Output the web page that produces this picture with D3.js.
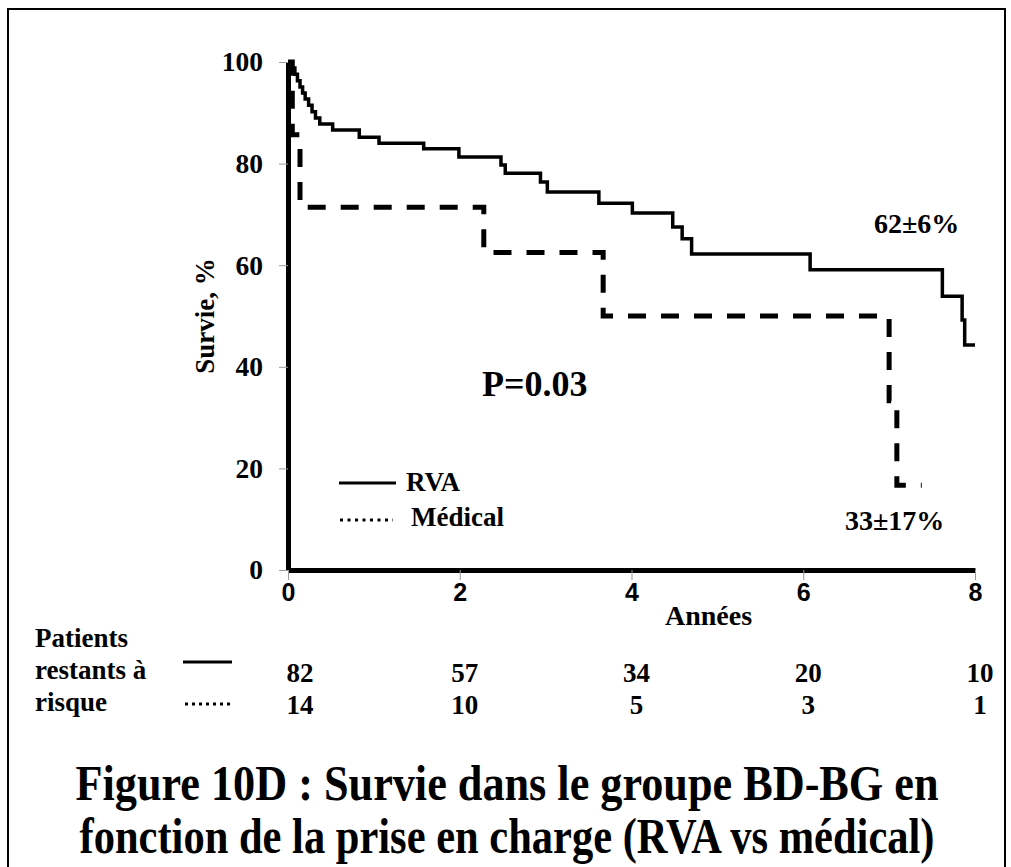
<!DOCTYPE html>
<html>
<head>
<meta charset="utf-8">
<script src="https://cdn.jsdelivr.net/npm/d3@7"></script>
<style>
  body { margin: 0; background: #fff; }
  text { font-family: "Liberation Serif", "Times New Roman", serif; font-weight: bold; fill: #000; }
</style>
</head>
<body>
<div id="chart"></div>
<script>
// Survival data (years, %)
var rvaTimes  = [0, 0.03, 0.08, 0.11, 0.14, 0.17, 0.20, 0.24, 0.28, 0.32, 0.37, 0.52, 0.83, 1.06, 1.58, 1.99, 2.48, 2.53, 2.94, 3.02, 3.62, 4.01, 4.48, 4.59, 4.70, 6.08, 7.62, 7.85, 7.88, 8.0];
var rvaValues = [100, 98.8, 97.6, 96.3, 95.1, 93.9, 92.7, 91.5, 90.2, 89.0, 87.8, 86.6, 85.2, 84.0, 82.9, 81.3, 79.7, 78.1, 76.4, 74.4, 72.2, 70.3, 67.5, 65.2, 62.2, 59.1, 53.9, 49.2, 44.3, 44.3];
var medTimes  = [0, 0.05, 0.14, 2.28, 3.67, 7.0, 7.09, 7.38];
var medValues = [100, 85.7, 71.4, 62.5, 50, 33.3, 16.7, 16.7];

var xTicks = [0, 2, 4, 6, 8];
var yTicks = [0, 20, 40, 60, 80, 100];
var riskRva = [82, 57, 34, 20, 10];
var riskMed = [14, 10, 5, 3, 1];

var W = 1011, H = 867;
var svg = d3.select("#chart").append("svg")
   .attr("width", W)
   .attr("height", H);

// frame around the figure
svg.append("path")
   .attr("d", "M8,867 L8,9 L1005,9 L1005,867")
   .attr("fill", "none")
   .attr("stroke", "#000")
   .attr("stroke-width", 2);

var x = d3.scaleLinear().domain([0, 8]).range([288, 975]);
var y = d3.scaleLinear().domain([0, 100]).range([570, 62]);

////////////////////////////////////////////////////////////////////////////////
// Axes
////////////////////////////////////////////////////////////////////////////////
var yAxis = svg.append("g")
   .attr("transform", "translate(" + x(0) + ",0)")
   .call(d3.axisLeft(y).tickValues(yTicks).tickSize(9).tickSizeOuter(0).tickPadding(16));
yAxis.select(".domain").attr("stroke", "#000").attr("stroke-width", 5);
yAxis.selectAll(".tick line").attr("stroke", "#999").attr("stroke-width", 1);
yAxis.selectAll(".tick text")
   .style("font-family", "Liberation Serif, serif")
   .attr("font-weight", "bold")
   .attr("font-size", 27.5)
   .attr("fill", "#000");

var xAxis = svg.append("g")
   .attr("transform", "translate(0," + y(0) + ")")
   .call(d3.axisBottom(x).tickValues(xTicks).tickSize(10).tickSizeOuter(0).tickPadding(3));
xAxis.select(".domain").attr("stroke", "#000").attr("stroke-width", 5);
xAxis.selectAll(".tick line").attr("stroke", "#999").attr("stroke-width", 1);
xAxis.selectAll(".tick text")
   .style("font-family", "Liberation Sans, Arial, sans-serif")
   .attr("font-weight", "bold")
   .attr("font-size", 25)
   .attr("fill", "#000");

svg.append("text").attr("x", 665).attr("y", 625).attr("font-size", 28).text("Années");

svg.append("text")
   .attr("transform", "translate(214,316) rotate(-90)")
   .attr("text-anchor", "middle")
   .attr("font-size", 27)
   .text("Survie, %");

////////////////////////////////////////////////////////////////////////////////
// Survival curves
////////////////////////////////////////////////////////////////////////////////
var line = d3.line()
   .x(function (d) { return x(d[0]); })
   .y(function (d) { return y(d[1]); })
   .curve(d3.curveStepAfter);

svg.append("path")
   .datum(medTimes.map(function (t, i) { return [t, medValues[i]]; }))
   .attr("d", line)
   .attr("fill", "none")
   .attr("stroke", "#000")
   .attr("stroke-width", 5)
   .attr("stroke-dasharray", "18,15");

svg.append("path")
   .datum(rvaTimes.map(function (t, i) { return [t, rvaValues[i]]; }))
   .attr("d", line)
   .attr("fill", "none")
   .attr("stroke", "#000")
   .attr("stroke-width", 3.5);

// annotations
svg.append("text").attr("x", 482).attr("y", 396).attr("font-size", 36).text("P=0.03");
svg.append("text").attr("x", 874).attr("y", 233).attr("font-size", 28).text("62±6%");
svg.append("text").attr("x", 845).attr("y", 530).attr("font-size", 28).text("33±17%");

// legend
svg.append("line").attr("x1", 339).attr("x2", 396).attr("y1", 483).attr("y2", 483)
   .attr("stroke", "#000").attr("stroke-width", 3);
svg.append("text").attr("x", 406).attr("y", 491).attr("font-size", 27).text("RVA");
svg.append("line").attr("x1", 340).attr("x2", 393).attr("y1", 520).attr("y2", 520)
   .attr("stroke", "#000").attr("stroke-width", 3).attr("stroke-dasharray", "3,4.5");
svg.append("text").attr("x", 411).attr("y", 526).attr("font-size", 27).text("Médical");

////////////////////////////////////////////////////////////////////////////////
// Patients at risk table
////////////////////////////////////////////////////////////////////////////////
var tableLabels = ["Patients", "restants à", "risque"];
svg.selectAll("text.risklabel")
   .data(tableLabels)
   .enter().append("text")
   .attr("class", "risklabel")
   .attr("x", 35)
   .attr("y", function (d, i) { return 647 + i * 32; })
   .attr("font-size", 27)
   .text(function (d) { return d; });

svg.append("line").attr("x1", 183).attr("x2", 232).attr("y1", 662).attr("y2", 662)
   .attr("stroke", "#000").attr("stroke-width", 3);
svg.append("line").attr("x1", 185).attr("x2", 232).attr("y1", 704).attr("y2", 704)
   .attr("stroke", "#000").attr("stroke-width", 3).attr("stroke-dasharray", "3,4");

[riskRva, riskMed].forEach(function (row, r) {
   svg.selectAll("text.risk" + r)
      .data(row)
      .enter().append("text")
      .attr("class", "risk" + r)
      .attr("x", function (d, i) { return x(xTicks[i]) + (i == 0 ? 12 : 5); })
      .attr("y", 682 + r * 32)
      .attr("text-anchor", "middle")
      .attr("font-size", 27)
      .text(function (d) { return d; });
});

////////////////////////////////////////////////////////////////////////////////
// Caption (stretched a little vertically, like the scanned original)
////////////////////////////////////////////////////////////////////////////////
var caption = ["Figure 10D : Survie dans le groupe BD-BG en",
               "fonction de la prise en charge (RVA vs médical)"];
var captionWidth = [863, 855];
svg.selectAll("g.caption")
   .data(caption)
   .enter().append("g")
   .attr("class", "caption")
   .attr("transform", function (d, i) { return "translate(507," + (800 + i * 53) + ") scale(1,1.13)"; })
   .append("text")
   .attr("text-anchor", "middle")
   .attr("font-size", 44)
   .attr("textLength", function (d, i) { return captionWidth[i]; })
   .attr("lengthAdjust", "spacingAndGlyphs")
   .text(function (d) { return d; });
</script>
</body>
</html>
